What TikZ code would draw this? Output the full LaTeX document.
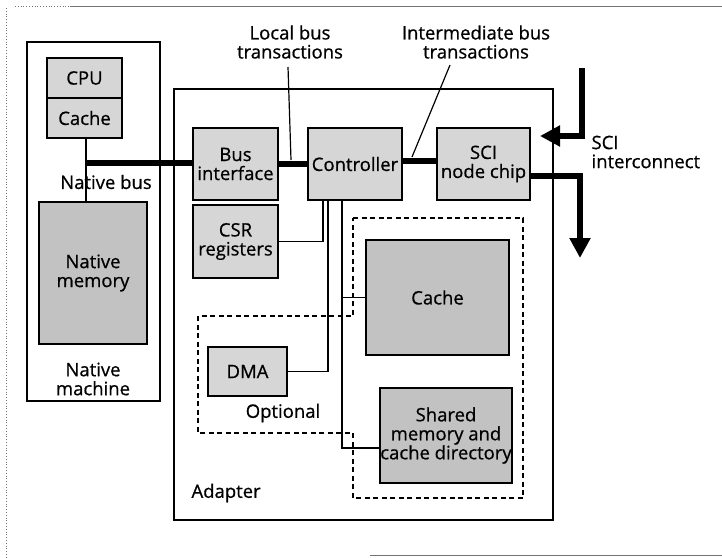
\documentclass[tikz,border=0pt]{standalone}
\usepackage{fontspec}
\setmainfont{Open Sans}[FakeBold=0.7]
\usetikzlibrary{arrows.meta}
\begin{document}
\begin{tikzpicture}[x=1pt,y=-1pt,
  font=\fontsize{18.5}{19}\selectfont,
  box/.style={draw, line width=1.4pt, fill=black!16, align=center, inner sep=0pt},
  darkbox/.style={box, fill=black!24},
  frame/.style={draw, line width=1.2pt, inner sep=0pt},
  bus/.style={line width=6pt},
  thin/.style={line width=1.2pt},
  dashline/.style={line width=1.2pt, dash pattern=on 5pt off 3.5pt},
  border/.style={black!55, line width=0.8pt},
  arr/.style={-{Triangle[width=20pt,length=20pt]}},
]
\useasboundingbox (0,0) rectangle (722,557);

% page border remnants
\draw[border, dotted] (15,6) -- (70,6);
\draw[border] (70,6) -- (722,6);
\draw[border, dotted] (6,8) -- (6,557);
\draw[border] (370,555) -- (722,555);

% native machine
\node[frame, minimum width=133pt, minimum height=359pt] (native) at (93.5,221.5) {};
\node[box, minimum width=75pt, minimum height=40pt] (cpu) at (84.5,78) {CPU};
\node[box, minimum width=75pt, minimum height=40pt] (ncache) at (84.5,118) {Cache};
\node[darkbox, minimum width=108pt, minimum height=142pt] (nmem) at (93,273) {Native\\memory};
\node (nbl) at (106,182) {Native bus};
\node[align=center] (nml) at (93,379) {Native\\machine};

% adapter
\node[frame, minimum width=379pt, minimum height=431pt] (adapter) at (363.5,304.5) {};
\node[anchor=west] (adl) at (188,493) {Adapter};

\draw[dashline] (353,218) -- (523,218) -- (523,498) -- (353,498) -- (353,433)
  -- (198,433) -- (198,316) -- (353,316) -- cycle;

\node[box, minimum width=85pt, minimum height=72pt] (busif) at (235.5,164) {Bus\\interface};
\node[box, minimum width=94pt, minimum height=72pt] (ctrl) at (355,164) {Controller};
\node[box, minimum width=93pt, minimum height=72pt] (sci) at (483.5,164) {SCI\\node chip};
\node[box, minimum width=85pt, minimum height=73pt] (csr) at (235.5,241.5) {CSR\\registers};
\node[darkbox, minimum width=143pt, minimum height=115pt] (cache) at (437.5,297.5) {Cache};
\node[box, minimum width=79pt, minimum height=49pt] (dma) at (247.5,371.5) {DMA};
\node (opl) at (283,413) {Optional};
\node[darkbox, minimum width=132pt, minimum height=95pt] (shared) at (446,435.5) {Shared\\memory and\\cache directory};

% native bus
\coordinate (nb) at (86,163);
\draw[thin] (ncache.south -| nb) -- (nmem.north -| nb);
\draw[bus] (nb) -- (nb -| busif.west);

% local and intermediate buses
\draw[bus] (busif.east) -- (ctrl.west);
\draw[bus] ([yshift=3pt]ctrl.east) -- ([yshift=3pt]sci.west);

% controller connections
\coordinate (trunk) at (342,200);
\draw[thin] (csr.east) -| ([xshift=-32pt]ctrl.south);
\draw[thin] (dma.east) -| ([xshift=-27pt]ctrl.south);
\draw[thin] (trunk) |- ([yshift=-12.5pt]shared.west);
\draw[thin] (cache.west) -- (cache.west -| trunk);

% leaders
\node[align=center] (lbt) at (290,42) {Local bus\\transactions};
\node[align=center] (ibt) at (476,42) {Intermediate bus\\transactions};
\coordinate (lbtop) at (288,67);
\coordinate (lbbot) at (291,160);
\coordinate (ibtop) at (450,65);
\coordinate (ibbot) at (412,157);
\draw[thin] (lbtop) -- (lbbot);
\draw[thin] (ibtop) -- (ibbot);

% SCI interconnect
\coordinate (inS) at (582,68);
\coordinate (inE) at (540,136);
\coordinate (outE) at (580,258);
\draw[bus, arr] (inS) |- (inE);
\draw[bus, arr] ([yshift=-12pt]sci.east) -| (outE);
\node[align=left, anchor=west] (scil) at (588,152) {SCI\\interconnect};
\end{tikzpicture}
\end{document}
